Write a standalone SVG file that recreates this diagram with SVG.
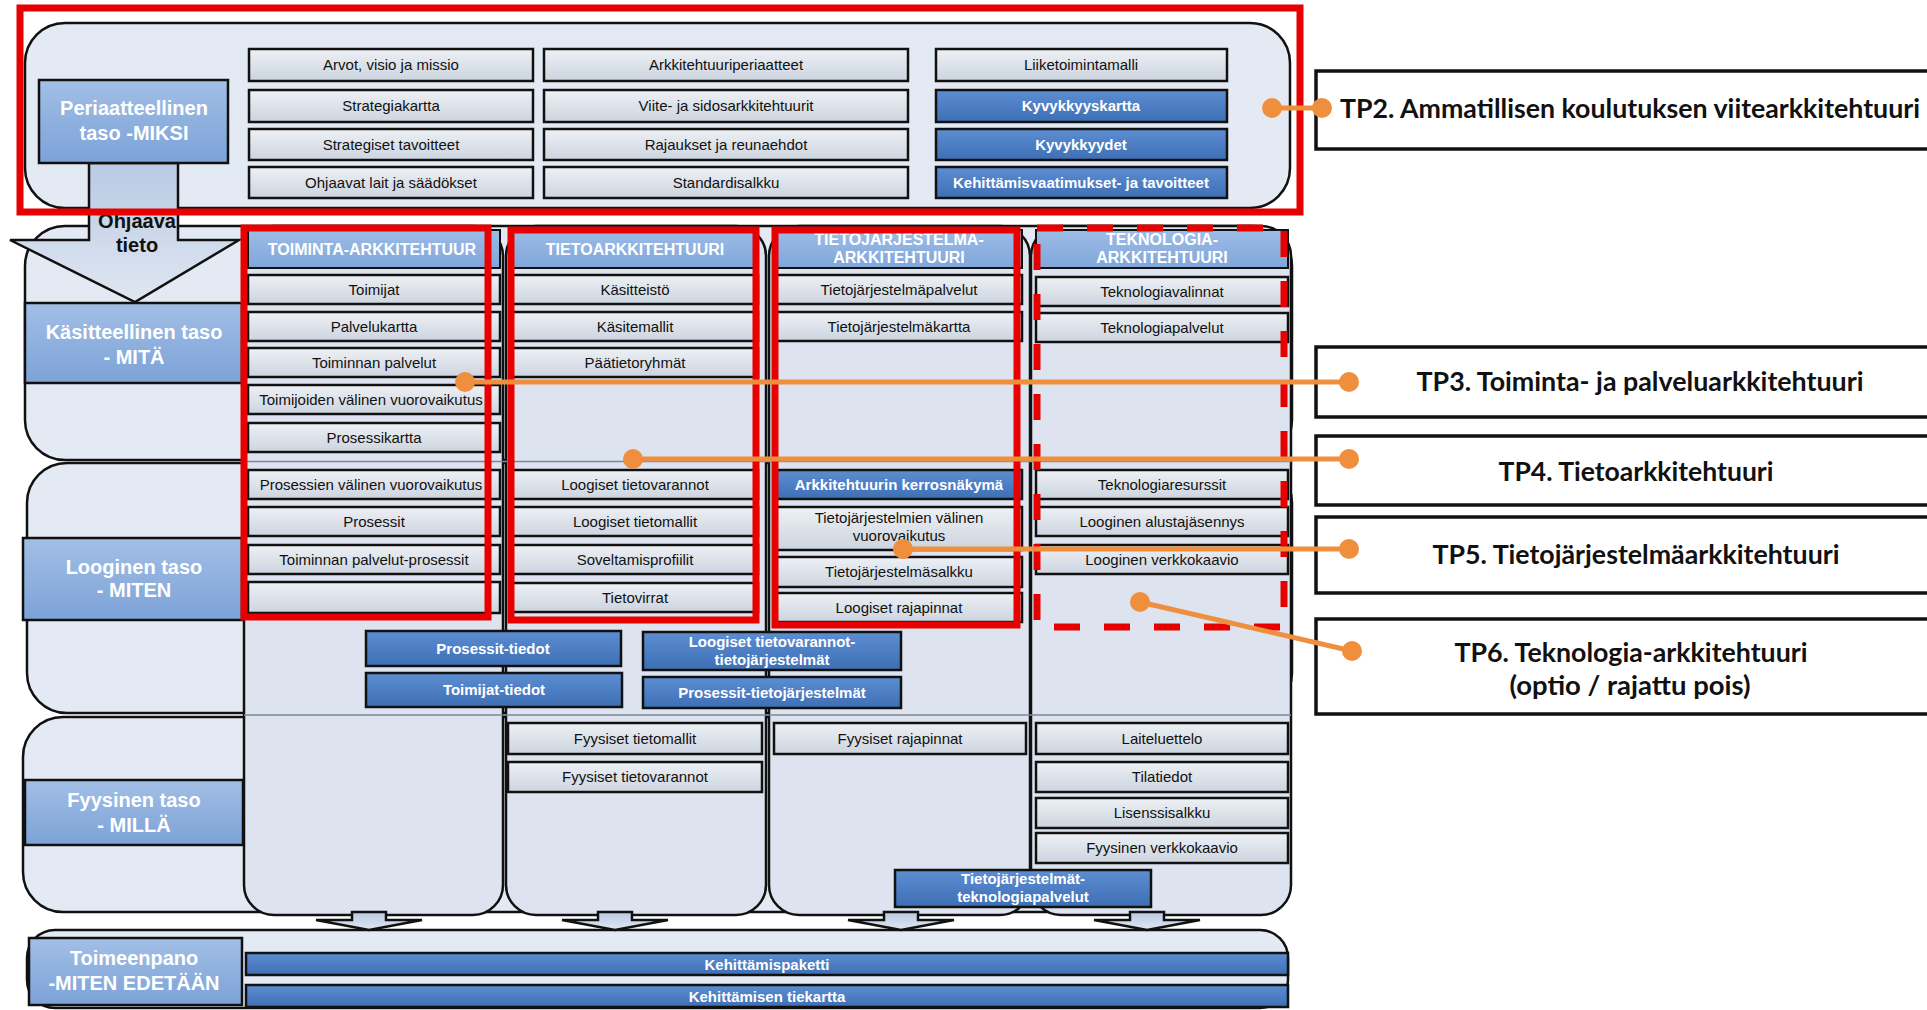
<svg xmlns="http://www.w3.org/2000/svg" width="1927" height="1010" viewBox="0 0 1927 1010">
<defs>
<linearGradient id="gBox" x1="0" y1="0" x2="0" y2="1"><stop offset="0" stop-color="#eef1f5"/><stop offset="1" stop-color="#ccd4df"/></linearGradient>
<linearGradient id="gLbl" x1="0" y1="0" x2="0" y2="1"><stop offset="0" stop-color="#a2bfe6"/><stop offset="1" stop-color="#7ca2d7"/></linearGradient>
<linearGradient id="gHdr" x1="0" y1="0" x2="0" y2="1"><stop offset="0" stop-color="#9dbce7"/><stop offset="1" stop-color="#80a6da"/></linearGradient>
<linearGradient id="gBlue" x1="0" y1="0" x2="0" y2="1"><stop offset="0" stop-color="#5d8ed2"/><stop offset="1" stop-color="#3e6fb5"/></linearGradient>
<linearGradient id="gArr" x1="0" y1="0" x2="0" y2="1"><stop offset="0" stop-color="#b9cae3"/><stop offset="1" stop-color="#dfe6f1"/></linearGradient>
<style>
.band{fill:#e4eaf3;stroke:#111;stroke-width:2.5}
.col{fill:#dde4ef;stroke:#111;stroke-width:2.5}
.sep{stroke:#7d8898;stroke-width:1.5}
.box{fill:url(#gBox);stroke:#111;stroke-width:2.5}
.lbl{fill:url(#gLbl);stroke:#111;stroke-width:2.5}
.hdr{fill:url(#gHdr);stroke:#111;stroke-width:2}
.blue{fill:url(#gBlue);stroke:#111;stroke-width:2.5}
.arr{fill:url(#gArr);stroke:#111;stroke-width:2.5}
.t{font-family:"Liberation Sans",Arial,sans-serif;font-size:15px;fill:#111;text-anchor:middle}
.tb{font-family:"Liberation Sans",Arial,sans-serif;font-size:15px;font-weight:bold;fill:#fff;text-anchor:middle}
.th{font-family:"Liberation Sans",Arial,sans-serif;font-size:16px;font-weight:bold;fill:#fff;text-anchor:middle}
.tl{font-family:"Liberation Sans",Arial,sans-serif;font-size:20px;font-weight:bold;fill:#fff;text-anchor:middle}
.tk{font-family:"Liberation Sans",Arial,sans-serif;font-size:20px;font-weight:bold;fill:#111;text-anchor:middle}
.red{fill:none;stroke:#e60000;stroke-width:7}
.redd{fill:none;stroke:#e60000;stroke-width:7;stroke-dasharray:26 24}
.or{stroke:#ef8f3d;stroke-width:5;fill:none}
.dot{fill:#ef8f3d}
.tp{fill:#fff;stroke:#111;stroke-width:3.5}
.tpt{font-family:Lato,"Open Sans",sans-serif;font-weight:bold;font-size:26.5px;fill:#111;text-anchor:middle}
</style>
</defs>

<g id="bands">
<rect class="band" x="25" y="23" width="1265" height="185" rx="40"/>
<rect class="band" x="25" y="226" width="1267" height="234" rx="40"/>
<rect class="band" x="27" y="463" width="1265" height="250" rx="40"/>
<rect class="band" x="23" y="717" width="1267" height="195" rx="40"/>
<rect class="band" x="27" y="930" width="1261" height="78" rx="28"/>
</g>

<g id="columns">
<rect class="col" x="244" y="226" width="259" height="689" rx="30"/>
<rect class="col" x="506" y="226" width="260" height="689" rx="30"/>
<rect class="col" x="769" y="226" width="261" height="689" rx="30"/>
<rect class="col" x="1031" y="226" width="260" height="689" rx="30"/>
<line class="sep" x1="244" y1="461.5" x2="1291" y2="461.5"/>
<line class="sep" x1="244" y1="715" x2="1291" y2="715"/>
</g>

<g id="ohjaava-tieto">
<path class="arr" d="M89,163 L178,163 L178,240 L239,240 L135,302 L10,240 L89,240 Z"/>
<text class="tk" x="137" y="228">Ohjaava</text>
<text class="tk" x="137" y="252">tieto</text>
</g>

<g id="label-periaatteellinen">
<rect class="lbl" x="39" y="80" width="189" height="83"/>
<text class="tl" x="134" y="115">Periaatteellinen</text>
<text class="tl" x="134" y="140">taso -MIKSI</text>
</g>
<g id="label-kasitteellinen">
<rect class="lbl" x="25" y="303" width="217" height="80"/>
<text class="tl" x="134" y="339">Käsitteellinen taso</text>
<text class="tl" x="134" y="364">- MITÄ</text>
</g>
<g id="label-looginen">
<rect class="lbl" x="23" y="538" width="219" height="82"/>
<text class="tl" x="134" y="574">Looginen taso</text>
<text class="tl" x="134" y="597">- MITEN</text>
</g>
<g id="label-fyysinen">
<rect class="lbl" x="25" y="780" width="218" height="65"/>
<text class="tl" x="134" y="807">Fyysinen taso</text>
<text class="tl" x="134" y="832">- MILLÄ</text>
</g>
<g id="label-toimeenpano">
<rect class="lbl" x="29" y="938" width="213" height="67"/>
<text class="tl" x="134" y="965">Toimeenpano</text>
<text class="tl" x="134" y="990">-MITEN EDETÄÄN</text>
</g>

<g id="top-boxes">
<g id="n-arvot"><rect class="box" x="249" y="49" width="284" height="32"/><text class="t" x="391" y="70">Arvot, visio ja missio</text></g>
<g id="n-strategiakartta"><rect class="box" x="249" y="90" width="284" height="32"/><text class="t" x="391" y="111">Strategiakartta</text></g>
<g id="n-strategiset"><rect class="box" x="249" y="129" width="284" height="31"/><text class="t" x="391" y="150">Strategiset tavoitteet</text></g>
<g id="n-ohjaavat"><rect class="box" x="249" y="167" width="284" height="31"/><text class="t" x="391" y="188">Ohjaavat lait ja säädökset</text></g>
<g id="n-arkkitehtuuriperiaatteet"><rect class="box" x="544" y="49" width="364" height="32"/><text class="t" x="726" y="70">Arkkitehtuuriperiaatteet</text></g>
<g id="n-viite"><rect class="box" x="544" y="90" width="364" height="32"/><text class="t" x="726" y="111">Viite- ja sidosarkkitehtuurit</text></g>
<g id="n-rajaukset"><rect class="box" x="544" y="129" width="364" height="31"/><text class="t" x="726" y="150">Rajaukset ja reunaehdot</text></g>
<g id="n-standardisalkku"><rect class="box" x="544" y="167" width="364" height="31"/><text class="t" x="726" y="188">Standardisalkku</text></g>
<g id="n-liiketoimintamalli"><rect class="box" x="936" y="49" width="291" height="32"/><text class="t" x="1081" y="70">Liiketoimintamalli</text></g>
<g id="n-kyvykkyyskartta"><rect class="blue" x="936" y="90" width="291" height="32"/><text class="tb" x="1081" y="111">Kyvykkyyskartta</text></g>
<g id="n-kyvykkyydet"><rect class="blue" x="936" y="129" width="291" height="31"/><text class="tb" x="1081" y="150">Kyvykkyydet</text></g>
<g id="n-kehittamisvaatimukset"><rect class="blue" x="936" y="167" width="291" height="31"/><text class="tb" x="1081" y="188">Kehittämisvaatimukset- ja tavoitteet</text></g>
</g>

<g id="col-toiminta">
<g id="h-toiminta"><rect class="hdr" x="248" y="230" width="252" height="38"/><text class="th" x="372" y="255">TOIMINTA-ARKKITEHTUUR</text></g>
<g id="n-toimijat"><rect class="box" x="248" y="275" width="252" height="29"/><text class="t" x="374" y="294.5">Toimijat</text></g>
<g id="n-palvelukartta"><rect class="box" x="248" y="312" width="252" height="29"/><text class="t" x="374" y="331.5">Palvelukartta</text></g>
<g id="n-toiminnan-palvelut"><rect class="box" x="248" y="348" width="252" height="29"/><text class="t" x="374" y="367.5">Toiminnan palvelut</text></g>
<g id="n-toimijoiden"><rect class="box" x="248" y="385" width="252" height="29"/><text class="t" x="371" y="404.5">Toimijoiden välinen vuorovaikutus</text></g>
<g id="n-prosessikartta"><rect class="box" x="248" y="423" width="252" height="29"/><text class="t" x="374" y="442.5">Prosessikartta</text></g>
<g id="n-prosessien"><rect class="box" x="248" y="470" width="252" height="29"/><text class="t" x="371" y="489.5">Prosessien välinen vuorovaikutus</text></g>
<g id="n-prosessit"><rect class="box" x="248" y="507" width="252" height="29"/><text class="t" x="374" y="526.5">Prosessit</text></g>
<g id="n-toiminnan-palvelut-prosessit"><rect class="box" x="248" y="545" width="252" height="29"/><text class="t" x="374" y="564.5">Toiminnan palvelut-prosessit</text></g>
<g id="n-toiminta-empty"><rect class="box" x="248" y="582" width="252" height="31"/></g>
</g>

<g id="col-tieto">
<g id="h-tieto"><rect class="hdr" x="512" y="230" width="246" height="38"/><text class="th" x="635" y="255">TIETOARKKITEHTUURI</text></g>
<g id="n-kasitteisto"><rect class="box" x="512" y="275" width="246" height="29"/><text class="t" x="635" y="294.5">Käsitteistö</text></g>
<g id="n-kasitemallit"><rect class="box" x="512" y="312" width="246" height="29"/><text class="t" x="635" y="331.5">Käsitemallit</text></g>
<g id="n-paatietoryhmat"><rect class="box" x="512" y="348" width="246" height="29"/><text class="t" x="635" y="367.5">Päätietoryhmät</text></g>
<g id="n-loogiset-tietovarannot"><rect class="box" x="512" y="470" width="246" height="29"/><text class="t" x="635" y="489.5">Loogiset tietovarannot</text></g>
<g id="n-loogiset-tietomallit"><rect class="box" x="512" y="507" width="246" height="29"/><text class="t" x="635" y="526.5">Loogiset tietomallit</text></g>
<g id="n-soveltamisprofiilit"><rect class="box" x="512" y="545" width="246" height="29"/><text class="t" x="635" y="564.5">Soveltamisprofiilit</text></g>
<g id="n-tietovirrat"><rect class="box" x="512" y="583" width="246" height="29"/><text class="t" x="635" y="602.5">Tietovirrat</text></g>
<g id="n-fyysiset-tietomallit"><rect class="box" x="508" y="723" width="254" height="31"/><text class="t" x="635" y="743.5">Fyysiset tietomallit</text></g>
<g id="n-fyysiset-tietovarannot"><rect class="box" x="508" y="762" width="254" height="30"/><text class="t" x="635" y="782">Fyysiset tietovarannot</text></g>
</g>

<g id="col-tietojarjestelma">
<g id="h-tietojarjestelma"><rect class="hdr" x="776" y="230" width="246" height="38"/><text class="th" x="899" y="245">TIETOJÄRJESTELMÄ-</text><text class="th" x="899" y="263">ARKKITEHTUURI</text></g>
<g id="n-tj-palvelut"><rect class="box" x="776" y="275" width="246" height="29"/><text class="t" x="899" y="294.5">Tietojärjestelmäpalvelut</text></g>
<g id="n-tj-kartta"><rect class="box" x="776" y="312" width="246" height="29"/><text class="t" x="899" y="331.5">Tietojärjestelmäkartta</text></g>
<g id="n-kerrosnakyma"><rect class="blue" x="776" y="470" width="246" height="29"/><text class="tb" x="899" y="489.5">Arkkitehtuurin kerrosnäkymä</text></g>
<g id="n-tj-vuorovaikutus"><rect class="box" x="776" y="507" width="246" height="43"/><text class="t" x="899" y="523">Tietojärjestelmien välinen</text><text class="t" x="899" y="541">vuorovaikutus</text></g>
<g id="n-tj-salkku"><rect class="box" x="776" y="557" width="246" height="30"/><text class="t" x="899" y="577">Tietojärjestelmäsalkku</text></g>
<g id="n-loogiset-rajapinnat"><rect class="box" x="776" y="593" width="246" height="29"/><text class="t" x="899" y="612.5">Loogiset rajapinnat</text></g>
<g id="n-fyysiset-rajapinnat"><rect class="box" x="774" y="723" width="252" height="31"/><text class="t" x="900" y="743.5">Fyysiset rajapinnat</text></g>
</g>

<g id="col-teknologia">
<g id="h-teknologia"><rect class="hdr" x="1036" y="230" width="252" height="38"/><text class="th" x="1162" y="245">TEKNOLOGIA-</text><text class="th" x="1162" y="263">ARKKITEHTUURI</text></g>
<g id="n-teknologiavalinnat"><rect class="box" x="1036" y="277" width="252" height="29"/><text class="t" x="1162" y="296.5">Teknologiavalinnat</text></g>
<g id="n-teknologiapalvelut"><rect class="box" x="1036" y="313" width="252" height="29"/><text class="t" x="1162" y="332.5">Teknologiapalvelut</text></g>
<g id="n-teknologiaresurssit"><rect class="box" x="1036" y="470" width="252" height="29"/><text class="t" x="1162" y="489.5">Teknologiaresurssit</text></g>
<g id="n-alustajasennys"><rect class="box" x="1036" y="507" width="252" height="29"/><text class="t" x="1162" y="526.5">Looginen alustajäsennys</text></g>
<g id="n-looginen-verkkokaavio"><rect class="box" x="1036" y="545" width="252" height="29"/><text class="t" x="1162" y="564.5">Looginen verkkokaavio</text></g>
<g id="n-laiteluettelo"><rect class="box" x="1036" y="723" width="252" height="31"/><text class="t" x="1162" y="743.5">Laiteluettelo</text></g>
<g id="n-tilatiedot"><rect class="box" x="1036" y="762" width="252" height="30"/><text class="t" x="1162" y="782">Tilatiedot</text></g>
<g id="n-lisenssisalkku"><rect class="box" x="1036" y="798" width="252" height="30"/><text class="t" x="1162" y="818">Lisenssisalkku</text></g>
<g id="n-fyysinen-verkkokaavio"><rect class="box" x="1036" y="833" width="252" height="30"/><text class="t" x="1162" y="853">Fyysinen verkkokaavio</text></g>
</g>

<g id="cross-boxes">
<g id="n-prosessit-tiedot"><rect class="blue" x="366" y="631" width="255" height="35"/><text class="tb" x="493" y="653.5">Prosessit-tiedot</text></g>
<g id="n-toimijat-tiedot"><rect class="blue" x="366" y="673" width="256" height="34"/><text class="tb" x="494" y="695">Toimijat-tiedot</text></g>
<g id="n-lt-tj"><rect class="blue" x="643" y="632" width="258" height="38"/><text class="tb" x="772" y="647">Loogiset tietovarannot-</text><text class="tb" x="772" y="665">tietojärjestelmät</text></g>
<g id="n-prosessit-tj"><rect class="blue" x="643" y="677" width="258" height="31"/><text class="tb" x="772" y="697.5">Prosessit-tietojärjestelmät</text></g>
<g id="n-tj-teknologiapalvelut"><rect class="blue" x="895" y="870" width="256" height="37"/><text class="tb" x="1023" y="884">Tietojärjestelmät-</text><text class="tb" x="1023" y="902">teknologiapalvelut</text></g>
</g>

<g id="flow-arrows">
<path class="arr" d="M352,912 L386,912 L386,920 L422,920 L369,930 L316,920 L352,920 Z"/>
<path class="arr" d="M598,912 L632,912 L632,920 L668,920 L615,930 L562,920 L598,920 Z"/>
<path class="arr" d="M884,912 L918,912 L918,920 L954,920 L901,930 L848,920 L884,920 Z"/>
<path class="arr" d="M1130,912 L1164,912 L1164,920 L1200,920 L1147,930 L1094,920 L1130,920 Z"/>
</g>

<g id="bottom-bars">
<g id="n-kehittamispaketti"><rect class="blue" x="246" y="953" width="1042" height="22"/><text class="tb" x="767" y="969.5">Kehittämispaketti</text></g>
<g id="n-tiekartta"><rect class="blue" x="246" y="985" width="1042" height="22"/><text class="tb" x="767" y="1001.5">Kehittämisen tiekartta</text></g>
</g>

<g id="scope-frames">
<rect class="red" x="20" y="8" width="1280" height="204"/>
<rect class="red" x="244" y="228" width="244" height="389"/>
<rect class="red" x="511" y="230" width="245" height="390"/>
<rect class="red" x="775" y="230" width="242" height="395"/>
<rect class="redd" x="1037" y="228" width="247" height="399"/>
</g>

<g id="tp2"><rect class="tp" x="1316" y="71" width="640" height="78"/><text class="tpt" x="1630" y="118" textLength="580" lengthAdjust="spacingAndGlyphs">TP2. Ammatillisen koulutuksen viitearkkitehtuuri</text></g>
<g id="tp3"><rect class="tp" x="1316" y="347" width="640" height="70"/><text class="tpt" x="1640" y="391" textLength="447" lengthAdjust="spacingAndGlyphs">TP3. Toiminta- ja palveluarkkitehtuuri</text></g>
<g id="tp4"><rect class="tp" x="1316" y="436" width="640" height="69"/><text class="tpt" x="1636" y="481" textLength="275" lengthAdjust="spacingAndGlyphs">TP4. Tietoarkkitehtuuri</text></g>
<g id="tp5"><rect class="tp" x="1316" y="517" width="640" height="76"/><text class="tpt" x="1636" y="564" textLength="407" lengthAdjust="spacingAndGlyphs">TP5. Tietojärjestelmäarkkitehtuuri</text></g>
<g id="tp6"><rect class="tp" x="1316" y="619" width="640" height="95"/><text class="tpt" x="1631" y="662" textLength="353" lengthAdjust="spacingAndGlyphs">TP6. Teknologia-arkkitehtuuri</text><text class="tpt" x="1630" y="695" textLength="241" lengthAdjust="spacingAndGlyphs">(optio / rajattu pois)</text></g>

<g id="connectors">
<line class="or" x1="1272" y1="108" x2="1322" y2="108"/>
<circle class="dot" cx="1272" cy="108" r="10"/>
<circle class="dot" cx="1322" cy="108" r="10"/>
<line class="or" x1="465" y1="382" x2="1349" y2="382"/>
<circle class="dot" cx="465" cy="382" r="10"/>
<circle class="dot" cx="1349" cy="382" r="10"/>
<line class="or" x1="633" y1="459" x2="1349" y2="459"/>
<circle class="dot" cx="633" cy="459" r="10"/>
<circle class="dot" cx="1349" cy="459" r="10"/>
<line class="or" x1="903" y1="549" x2="1349" y2="549"/>
<circle class="dot" cx="903" cy="549" r="10"/>
<circle class="dot" cx="1349" cy="549" r="10"/>
<line class="or" x1="1140" y1="602" x2="1352" y2="651"/>
<circle class="dot" cx="1140" cy="602" r="10"/>
<circle class="dot" cx="1352" cy="651" r="10"/>
</g>
</svg>
